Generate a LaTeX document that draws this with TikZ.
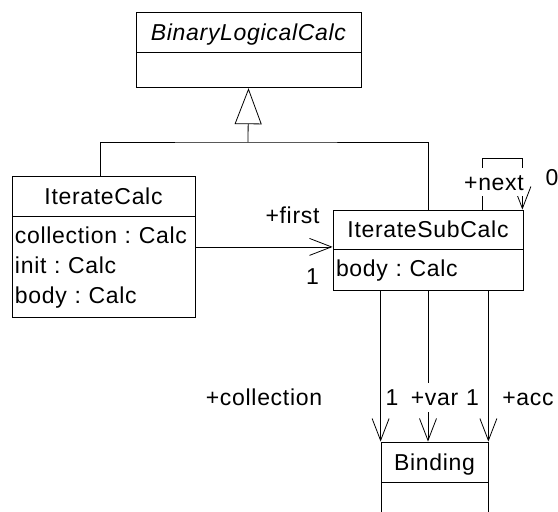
\documentclass[tikz,border=0pt]{standalone}
\usepackage{fontspec}
\setmainfont[LetterSpace=3]{Liberation Sans}
\usetikzlibrary{positioning,arrows.meta,calc}
\frenchspacing

\begin{document}
\begin{tikzpicture}[x=1pt,y=1pt,
    font=\fontsize{23}{30}\selectfont,
    classhead/.style={draw, line width=0.8pt, inner sep=0pt, minimum height=40pt, text height=16.5pt, text depth=0pt},
    classbody/.style={draw, line width=0.8pt, inner xsep=3pt, inner ysep=0pt, align=left},
    assoc/.style={-{Straight Barb[length=22pt,width=17pt]}, line width=0.8pt},
    genline/.style={-{Triangle[open,length=36pt,width=27pt]}, line width=0.8pt},
    rolelabel/.style={inner sep=1pt, text height=16.5pt, text depth=0pt},]
    \clip (0,0) rectangle (558,-512);
    %Nodes
    \node[classhead, minimum width=225pt] (blc) at (248.5,-32) {\itshape BinaryLogicalCalc};
    \node[classbody, minimum width=225pt, minimum height=35pt] (blcb) [below=0pt of blc] {};
    \node[classhead, minimum width=183pt] (itc) at (103.5,-196) {IterateCalc};
    \node[classbody, text width=177pt, minimum height=101pt] (itcb) [below=0pt of itc] {collection : Calc\\init : Calc\\body : Calc};
    \node[classhead, minimum width=190pt, minimum height=39pt] (isc) at (428,-229.5) {IterateSubCalc};
    \node[classbody, text width=184pt, minimum height=41pt] (iscb) [below=0pt of isc] {body : Calc};
    \node[classhead, minimum width=107pt] (bnd) at (434.5,-462) {Binding};
    \node[classbody, minimum width=107pt, minimum height=40pt] (bndb) [below=0pt of bnd] {};

    %Lines
    \coordinate (genjoin) at (248,-142);
    \draw[line width=0.8pt] ([xshift=-3.5pt]itc.north) |- (genjoin) -| (isc.north);
    \draw[genline] (genjoin) -- (blcb.south);
    \coordinate (firststart) at ($(itc.north east)!.5!(itcb.south east)$);
    \draw[assoc] (firststart) -- (firststart -| isc.west);
    \draw[assoc] ([xshift=-41pt]isc.north east) -- ++(0,51) -| ([xshift=-1pt]isc.north east);
    \draw[assoc] (bnd.north west |- iscb.south) -- (bnd.north west);
    \draw[assoc] (iscb.south) -- (iscb.south |- bnd.north);
    \draw[assoc] (bnd.north east |- iscb.south) -- (bnd.north east);

    %Labels
    \node[rolelabel] (firstrole) at (292.5,-215.5) {+first};
    \node[rolelabel] (firstmult) at (312.5,-276.5) {1};
    \node[rolelabel, fill=white, inner ysep=6pt] (nextrole) at (494,-182) {+next};
    \node[rolelabel] (nextmult) at (552,-177) {0};
    \node[rolelabel] (collrole) at (264,-397.5) {+collection};
    \node[rolelabel] (collmult) at (392,-397.5) {1};
    \node[rolelabel, fill=white, inner ysep=6pt] (varrole) at (434.5,-397.5) {+var};
    \node[rolelabel] (varmult) at (472.5,-397.5) {1};
    \node[rolelabel] (accrole) at (528,-397.5) {+acc};
\end{tikzpicture}
\end{document}
